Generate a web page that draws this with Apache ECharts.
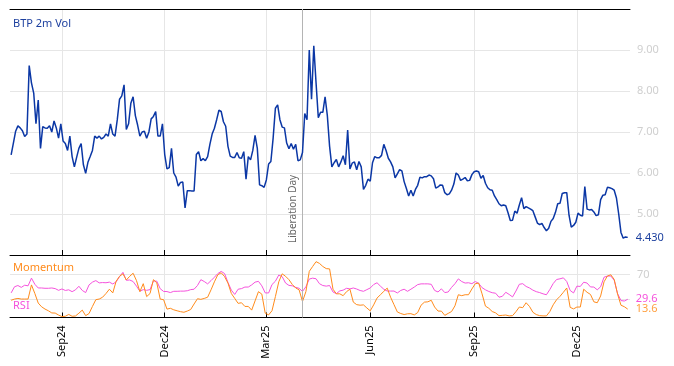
<!DOCTYPE html>
<html>
<head>
<meta charset="utf-8">
<script src="https://cdn.jsdelivr.net/npm/echarts@6/dist/echarts.min.js"></script>
<style>html,body{margin:0;padding:0;background:#fff}#c{width:674px;height:366px}</style>
</head>
<body>
<div id="c"></div>
<script>
// ---- data ----
const volStart = '2024-07-18';   // volatility sampled every 2 calendar days
const volStepDays = 2;
const vol = [
6.44,6.73,7.02,7.15,7.10,7.03,6.89,6.95,8.62,8.20,
7.95,7.20,7.78,6.60,7.13,7.10,7.09,7.15,7.00,7.27,
7.10,6.85,7.20,6.78,6.72,6.55,6.90,6.40,6.15,6.38,
6.60,6.72,6.20,5.99,6.26,6.40,6.55,6.90,6.85,6.90,
6.83,6.87,6.95,6.90,7.20,6.95,6.90,7.30,7.80,7.88,
8.15,7.06,7.20,7.70,7.86,7.40,7.17,6.90,7.00,7.02,
6.85,7.00,7.32,7.38,7.50,6.90,6.90,7.20,6.45,6.10,
6.13,6.60,6.00,5.90,5.68,5.77,5.78,5.15,5.57,5.57,
5.56,5.56,6.45,6.52,6.30,6.35,6.30,6.40,6.70,6.95,
7.09,7.30,7.53,7.50,7.25,7.14,6.65,6.41,6.38,6.38,
6.50,6.37,6.36,6.52,5.85,6.40,6.32,6.55,6.92,6.60,
5.71,5.69,5.65,5.83,6.22,6.28,6.85,7.58,7.66,7.30,
7.12,7.10,6.73,6.59,6.72,6.58,6.70,6.30,6.32,6.50,
7.45,7.30,9.00,7.80,9.10,8.20,7.35,7.48,7.48,7.86,
7.40,6.65,6.15,6.25,6.33,6.15,6.27,6.42,6.20,7.05,
6.10,6.24,6.27,6.08,6.28,6.15,5.60,5.70,5.85,5.80,
6.25,6.40,6.37,6.37,6.43,6.70,6.55,6.36,6.27,6.15,
5.88,5.98,6.08,6.05,5.79,5.62,5.44,5.58,5.44,5.60,
5.70,5.90,5.88,5.91,5.91,5.95,5.93,5.86,5.63,5.66,
5.71,5.70,5.52,5.47,5.49,5.58,5.73,6.00,5.95,5.82,
5.85,5.89,5.81,5.82,5.96,6.03,6.05,6.03,5.87,5.94,
5.75,5.64,5.59,5.58,5.44,5.35,5.25,5.20,5.22,5.20,
5.03,4.84,4.85,5.07,5.02,5.22,5.40,5.13,5.18,5.15,
5.12,5.08,4.93,4.78,4.74,4.77,4.67,4.59,4.65,4.82,
4.89,5.04,5.25,5.26,5.50,5.52,5.52,4.97,4.68,4.72,
4.80,5.02,4.97,4.95,5.67,5.12,5.10,5.11,5.05,4.96,
4.98,5.35,5.46,5.47,5.65,5.64,5.62,5.58,5.39,5.00,
4.55,4.41,4.44,4.43
];

const oscStart = '2024-07-18';   // RSI / momentum sampled every 3 calendar days
const oscStepDays = 3;
const rsi = [
40,50,52,49,52.5,51.5,64,54,48,48,
47.5,47.5,48,47,44.2,46.4,44,45,42,45,
50.8,44,40.5,53,57.5,60,56.3,56.8,56.5,57.5,
54.5,58,66.5,73.5,60.5,61,58.5,51,42.8,45.3,
44.2,45.3,59.5,59,46.8,42.4,42.2,40.5,42.6,42.6,
42.9,42.9,43.5,45.3,46,52,61.5,58.5,54.7,60,
65.5,71.4,75,71.5,57,44.5,37.5,46,47,49.5,
49.5,53,57.5,58.8,51.5,40,39.9,53.6,59,69,
66.5,56,52.2,51.5,49,47.5,42.3,50,62.5,64,
63,55,52,51,52,41.5,38.8,43.2,44.5,47.5,
46.5,48,46.3,43.9,42.6,45.3,48,53.6,56.5,51,
46,43,43,43,39.9,44,46,42.6,46,49.5,
53.5,54.7,54.7,54.7,54,44,41.5,46.6,40.5,41.5,
49,55,62.8,58.5,56,56.5,55,58.5,55.5,48.5,
45,42.3,40.3,39.5,33,34.5,41,37.5,33.5,43,
54,55,50.5,48,44.5,42,40.5,38.5,37,45.5,
55.2,61.8,62.9,64.5,58.5,44,39.9,51,50.5,57.4,
56,49.7,49.5,45,50,65.5,67.3,67.5,60.5,39,
27.5,26.8,29.6
];
const momentum = [
28,30,31,30,30,30,53,39,23.5,17.4,
13.7,10.9,7.4,7.2,4,1.5,2,5,2,2.5,
7,12,3,6.5,18,29,30,33,39,46,
40,59,67,71,61,67,72,60,42,55,
34,39,61.5,56.3,30,29,13.6,15,12.5,10.9,
9.5,8.5,10.5,13,22,30.5,29.5,31,33,45,
58,69.5,72.7,66.5,56,39,31,23,24,18,
18,12,27,42,38,7,4.2,11,34,58,
71,67,61.5,53.6,48,45,26,42,75,83,
90.8,88,83,79.5,79,46,38.5,38.5,35.5,42,
46,25,20.9,20,20.5,15.5,10.8,20.5,31.6,37,
42.5,47.8,33,21,9,6.5,4.8,6,6.2,4.2,
8,20,25,25.5,28,17,10.5,10.3,3.5,6.7,
9.7,19,37,35.5,37,37,46.4,55,56,38.5,
18.5,15,9.7,7.5,3,3.5,4,2.6,3,9.5,
17,16,24,18,8.5,4.8,3,2.6,2.6,9.7,
20.7,28.9,34.4,41,48,16.5,14,17,17,46,
41,37.5,25.5,24,35,58,67.5,69.5,62,38,
20,17.5,13.6
];

const tickDates = ['2024-09-01','2024-12-01','2025-03-01','2025-06-01','2025-09-01','2025-12-01'];
const tickLabels = ['Sep24','Dec24','Mar25','Jun25','Sep25','Dec25'];
const axisStart = '2024-07-17';
const axisEnd = '2026-01-17';
const eventDate = '2025-04-02';
const eventName = 'Liberation Day';
const volTicks = [4,5,6,7,8,9,10];
const oscGridValues = [30,70];
const oscLabelValues = [70];

// ---- helpers ----
function ts(s){ return new Date(s + 'T00:00:00').getTime(); }
function dateSeq(start, step, n){
  const out = []; const t0 = ts(start);
  for (let i = 0; i < n; i++) out.push(t0 + i*step*86400000);
  return out;
}
const volDates = dateSeq(volStart, volStepDays, vol.length);
const oscDates = dateSeq(oscStart, oscStepDays, rsi.length);
const tickTs = tickDates.map(ts);

const C_VOL = '#0b37a5', C_RSI = '#f552dc', C_MOM = '#ff8b1c';
const FONT = 'Noto Sans';

const chart = echarts.init(document.getElementById('c'), null, {renderer:'canvas'});
const commonX = {type:'value', min: ts(axisStart), max: ts(axisEnd), scale:true};
chart.setOption({
  animation:false,
  textStyle:{fontFamily:FONT},
  title:[
    {text:'BTP 2m Vol', left:13, top:18, padding:0, textStyle:{color:'#1c3f9e', fontSize:11, fontWeight:'normal', fontFamily:FONT}},
    {text:'Momentum', left:13, top:262, padding:0, textStyle:{color:C_MOM, fontSize:11, fontWeight:'normal', fontFamily:FONT}},
    {text:'RSI', left:13, top:300, padding:0, textStyle:{color:C_RSI, fontSize:11, fontWeight:'normal', fontFamily:FONT}}
  ],
  grid:[
    {left:10, right:44, top:9, height:246},
    {left:10, right:44, top:256, height:61.5}
  ],
  xAxis:[
    Object.assign({}, commonX, {gridIndex:0, position:'bottom',
      axisLine:{lineStyle:{color:'#000', width:1}},
      axisTick:{inside:true, length:5, customValues:tickTs, lineStyle:{color:'#000'}},
      axisLabel:{show:false},
      splitLine:{show:true, lineStyle:{color:'#e6e6e6', width:1}}}),
    Object.assign({}, commonX, {gridIndex:0, position:'top',
      axisLine:{lineStyle:{color:'#000', width:1}},
      axisTick:{show:false}, axisLabel:{show:false}, splitLine:{show:false}}),
    Object.assign({}, commonX, {gridIndex:1, position:'bottom',
      axisLine:{lineStyle:{color:'#000', width:1}},
      axisTick:{inside:true, length:5, customValues:tickTs, lineStyle:{color:'#000'}},
      axisLabel:{customValues:tickTs, rotate:90, margin:8, color:'#000', fontSize:11, fontFamily:FONT,
        formatter:function(v){ const i = tickTs.indexOf(v); return i >= 0 ? tickLabels[i] : ''; }},
      splitLine:{show:true, lineStyle:{color:'#e6e6e6', width:1}}})
  ],
  yAxis:[
    {type:'value', gridIndex:0, position:'right', min:volTicks[0], max:volTicks[volTicks.length-1], interval:1,
      axisLine:{show:false}, axisTick:{show:false},
      axisLabel:{color:'#cfcfcf', fontSize:11, margin:7, fontFamily:FONT, showMinLabel:false, showMaxLabel:false,
        formatter:function(v){ return v.toFixed(2); }},
      splitLine:{lineStyle:{color:'#e6e6e6', width:1}}},
    {type:'value', gridIndex:1, position:'right', min:0, max:100,
      axisLine:{show:false}, axisTick:{show:false, customValues:oscGridValues},
      axisLabel:{customValues:oscLabelValues, color:'#cfcfcf', fontSize:11, margin:7, fontFamily:FONT},
      splitLine:{lineStyle:{color:'#e6e6e6', width:1}}}
  ],
  series:[
    {type:'line', name:'BTP 2m Vol', xAxisIndex:0, yAxisIndex:0,
      data: vol.map((v,i)=>[volDates[i], v]),
      showSymbol:false, symbol:'none', color:C_VOL, lineStyle:{color:C_VOL, width:1.5},
      endLabel:{show:true, distance:8, color:'#1c3f9e', fontSize:11, fontFamily:FONT,
        formatter:function(p){ return p.value[1].toFixed(3); }},
      markLine:{silent:true, symbol:'none', animation:false,
        lineStyle:{color:'#b4b4b4', width:1, type:'solid'},
        label:{show:true, formatter:eventName, position:'insideStartTop', color:'#666', fontSize:10, fontFamily:FONT, distance:[12,4]},
        data:[{xAxis: ts(eventDate)}]},
      z:5},
    {type:'line', name:'RSI', xAxisIndex:2, yAxisIndex:1,
      data: rsi.map((v,i)=>[oscDates[i], v]),
      showSymbol:false, symbol:'none', color:C_RSI, lineStyle:{color:C_RSI, width:1},
      endLabel:{show:true, distance:8, color:C_RSI, fontSize:11, fontFamily:FONT,
        formatter:function(p){ return p.value[1].toFixed(1); }},
      markLine:{silent:true, symbol:'none', animation:false,
        lineStyle:{color:'#b4b4b4', width:1, type:'solid'}, label:{show:false},
        data:[{xAxis: ts(eventDate)}]}},
    {type:'line', name:'Momentum', xAxisIndex:2, yAxisIndex:1,
      data: momentum.map((v,i)=>[oscDates[i], v]),
      showSymbol:false, symbol:'none', color:C_MOM, lineStyle:{color:C_MOM, width:1},
      endLabel:{show:true, distance:8, color:'#ffa040', fontSize:11, fontFamily:FONT,
        formatter:function(p){ return p.value[1].toFixed(1); }}}
  ]
});
</script>
</body>
</html>
